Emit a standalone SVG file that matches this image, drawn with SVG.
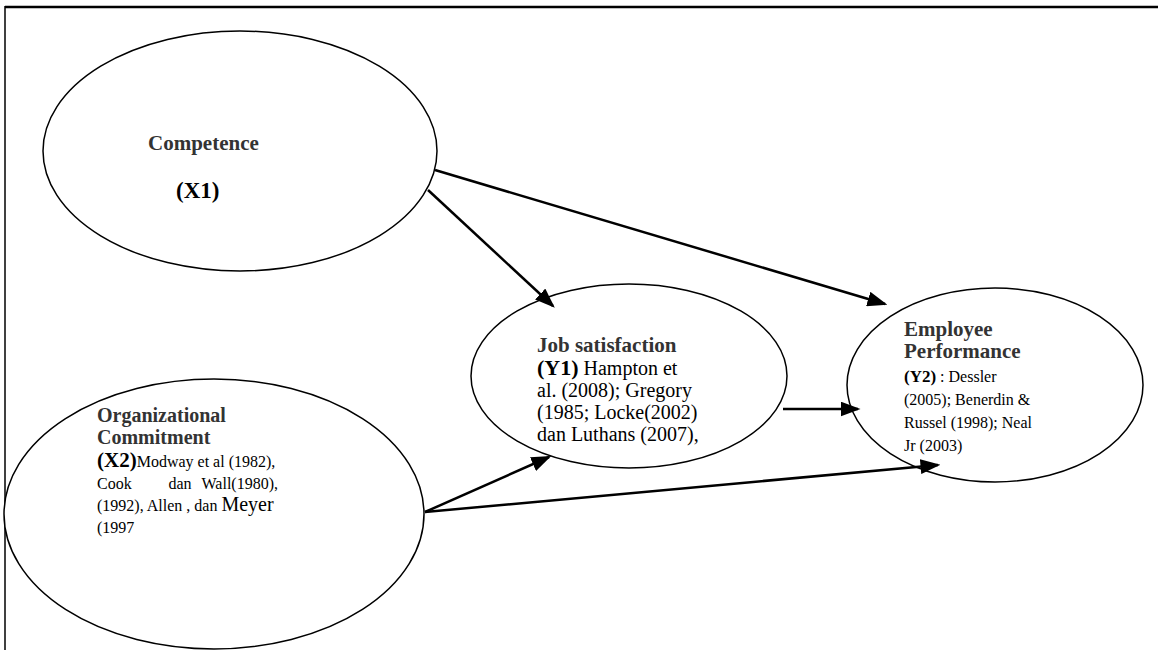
<svg xmlns="http://www.w3.org/2000/svg" width="1158" height="650" viewBox="0 0 1158 650">
<style>
.node{fill:#fff;stroke:#000;stroke-width:1.5}
.t{font-family:"Liberation Serif","Times New Roman",serif;fill:#000}
.b{font-weight:bold;fill:#333}
.k{font-weight:bold;fill:#000}
.conn{stroke:#000;stroke-width:2.5;fill:none}
</style>
<defs>
<marker id="ah" markerWidth="8" markerHeight="6" refX="7" refY="3" orient="auto" markerUnits="strokeWidth">
<path d="M0,0 L8,3 L0,6 z" fill="#000"/>
</marker>
</defs>
<rect width="1158" height="650" fill="#fff"/>
<g id="frame">
<line x1="5" y1="7" x2="1158" y2="7" stroke="#000" stroke-width="2.5"/>
<line x1="5" y1="6" x2="5" y2="650" stroke="#000" stroke-width="1.5"/>
</g>
<g id="n-competence">
<ellipse class="node" cx="240" cy="151" rx="197" ry="120"/>
<text class="t b" x="148" y="150" font-size="21">Competence</text>
<text class="t k" x="176" y="198" font-size="23">(X1)</text>
</g>
<g id="n-job">
<ellipse class="node" cx="629" cy="376" rx="158" ry="92"/>
<text class="t" font-size="20">
<tspan class="b" x="537" y="352" font-size="21">Job satisfaction</tspan>
<tspan x="537" y="375"><tspan class="k" font-size="22">(Y1)</tspan> Hampton et</tspan>
<tspan x="537" y="397">al. (2008); Gregory</tspan>
<tspan x="537" y="419">(1985; Locke(2002)</tspan>
<tspan x="537" y="441">dan Luthans (2007),</tspan>
</text>
</g>
<g id="n-performance">
<ellipse class="node" cx="995" cy="385" rx="148" ry="97"/>
<text class="t" font-size="16">
<tspan class="b" x="904" y="336" font-size="21">Employee</tspan>
<tspan class="b" x="904" y="358" font-size="21">Performance</tspan>
<tspan x="904" y="382"><tspan class="k" font-size="17">(Y2)</tspan> : Dessler</tspan>
<tspan x="904" y="405">(2005); Benerdin &amp;</tspan>
<tspan x="904" y="428">Russel (1998); Neal</tspan>
<tspan x="904" y="451">Jr (2003)</tspan>
</text>
</g>
<g id="n-commitment">
<ellipse class="node" cx="214" cy="514" rx="210" ry="135"/>
<text class="t" font-size="16">
<tspan class="b" x="97" y="422" font-size="20">Organizational</tspan>
<tspan class="b" x="97" y="444" font-size="20">Commitment</tspan>
<tspan x="97" y="467"><tspan class="k" font-size="21">(X2)</tspan>Modway et al (1982),</tspan>
</text>
<text class="t" font-size="16" x="97" y="489">Cook</text>
<text class="t" font-size="16" x="180" y="489" text-anchor="middle">dan</text>
<text class="t" font-size="16" x="278" y="489" text-anchor="end">Wall(1980),</text>
<text class="t" font-size="16" x="97" y="511">(1992), Allen , dan <tspan font-size="20">Meyer</tspan></text>
<text class="t" font-size="16" x="97" y="533">(1997</text>
</g>
<g id="connectors">
<line class="conn" x1="428" y1="190" x2="553" y2="306" marker-end="url(#ah)"/>
<line class="conn" x1="435" y1="170" x2="885" y2="304" marker-end="url(#ah)"/>
<line class="conn" x1="783" y1="409" x2="858" y2="409" marker-end="url(#ah)"/>
<line class="conn" x1="425" y1="512" x2="549" y2="457" marker-end="url(#ah)"/>
<line class="conn" x1="425" y1="512" x2="938" y2="465" marker-end="url(#ah)"/>
</g>
</svg>
